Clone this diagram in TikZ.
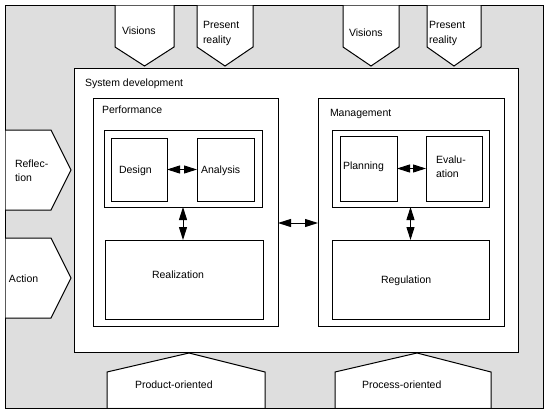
\documentclass[tikz,border=0pt]{standalone}
\usepackage{fontspec}
\setmainfont{Liberation Sans}
\usetikzlibrary{arrows.meta}
\begin{document}
\begin{tikzpicture}[x=1pt,y=-1pt,line width=1pt,
  box/.style={draw=black,fill=white,rectangle,inner sep=0pt,outer sep=0pt,anchor=north west},
  lbl/.style={inner sep=0pt,outer sep=0pt,anchor=base west,font=\fontsize{10.5}{12}\selectfont},
  dbl/.style={{Triangle[length=13pt,width=8pt]}-{Triangle[length=13pt,width=8pt]},line width=1pt}]
\useasboundingbox (0,0) rectangle (549,416);
% outer frame with dotted background
\filldraw[fill=black!13,draw=black] (5,5) rectangle (543,408);
% top pentagons
\fill[white] (115,5.5) -- (115,47) -- (144.5,66) -- (174,47) -- (174,5.5) -- cycle;
\draw (115,5) -- (115,47) -- (144.5,66) -- (174,47) -- (174,5);
\fill[white] (197,5.5) -- (197,47) -- (225,66) -- (253,47) -- (253,5.5) -- cycle;
\draw (197,5) -- (197,47) -- (225,66) -- (253,47) -- (253,5);
\fill[white] (343,5.5) -- (343,47) -- (371,66) -- (399,47) -- (399,5.5) -- cycle;
\draw (343,5) -- (343,47) -- (371,66) -- (399,47) -- (399,5);
\fill[white] (427,5.5) -- (427,47) -- (454,66) -- (481,47) -- (481,5.5) -- cycle;
\draw (427,5) -- (427,47) -- (454,66) -- (481,47) -- (481,5);
% left pentagons
\fill[white] (5.5,130) -- (51,130) -- (71,170) -- (51,210) -- (5.5,210) -- cycle;
\draw (5,130) -- (51,130) -- (71,170) -- (51,210) -- (5,210);
\fill[white] (5.5,238) -- (51,238) -- (71,278) -- (51,318) -- (5.5,318) -- cycle;
\draw (5,238) -- (51,238) -- (71,278) -- (51,318) -- (5,318);
% bottom pentagons
\fill[white] (107,407.5) -- (107,372) -- (189,353) -- (265,372) -- (265,407.5) -- cycle;
\draw (107,408) -- (107,372) -- (189,353) -- (265,372) -- (265,408);
\fill[white] (335,407.5) -- (335,372) -- (417,353) -- (491,372) -- (491,407.5) -- cycle;
\draw (335,408) -- (335,372) -- (417,353) -- (491,372) -- (491,408);
% boxes
\node[box,minimum width=444pt,minimum height=284pt] (sysdev) at (74,68) {};
\node[box,minimum width=185pt,minimum height=228pt] (perf) at (93,98) {};
\node[box,minimum width=186pt,minimum height=228pt] (mgmt) at (318,98) {};
\node[box,minimum width=158pt,minimum height=77pt] (perfgrp) at (104,130) {};
\node[box,minimum width=56pt,minimum height=63pt] (design) at (111,138) {};
\node[box,minimum width=57pt,minimum height=63pt] (analysis) at (197,138) {};
\node[box,minimum width=158pt,minimum height=79pt] (real) at (105,240) {};
\node[box,minimum width=157pt,minimum height=77pt] (mgmtgrp) at (332,130) {};
\node[box,minimum width=57pt,minimum height=65pt] (planning) at (340,136) {};
\node[box,minimum width=56pt,minimum height=65pt] (evaluation) at (426,136) {};
\node[box,minimum width=157pt,minimum height=79pt] (regul) at (332,240) {};
% texts
\node[lbl] (tvis1) at (122,34) {Visions};
\node[lbl] (tpres1) at (203,28) {Present};
\node[lbl] (treal1) at (203,43) {reality};
\node[lbl] (tvis2) at (349,36) {Visions};
\node[lbl] (tpres2) at (429,28) {Present};
\node[lbl] (treal2) at (429,43) {reality};
\node[lbl] (tsys) at (85,86) {System development};
\node[lbl] (tperf) at (102,113) {Performance};
\node[lbl] (tmgmt) at (330,116) {Management};
\node[lbl] (tdes) at (119,173) {Design};
\node[lbl] (tana) at (201,173) {Analysis};
\node[lbl] (trefl1) at (15,167) {Reflec-};
\node[lbl] (trefl2) at (15,181) {tion};
\node[lbl] (tact) at (9,282) {Action};
\node[lbl] (treali) at (152,278) {Realization};
\node[lbl] (tplan) at (343,169) {Planning};
\node[lbl] (teval1) at (436,163) {Evalu-};
\node[lbl] (teval2) at (436,177) {ation};
\node[lbl] (treg) at (381,283) {Regulation};
\node[lbl] (tprod) at (135,388) {Product-oriented};
\node[lbl] (tproc) at (362,388) {Process-oriented};
% connectors
\coordinate (hy) at (0,223);
\draw[dbl] (design.east) -- (analysis.west);
\draw[dbl] (planning.east) -- (evaluation.west);
\draw[dbl] (perfgrp.south) -- (real.north -| perfgrp.south);
\draw[dbl] (mgmtgrp.south) -- (regul.north);
\draw[dbl] (perf.east |- hy) -- (mgmt.west |- hy);
\end{tikzpicture}
\end{document}
